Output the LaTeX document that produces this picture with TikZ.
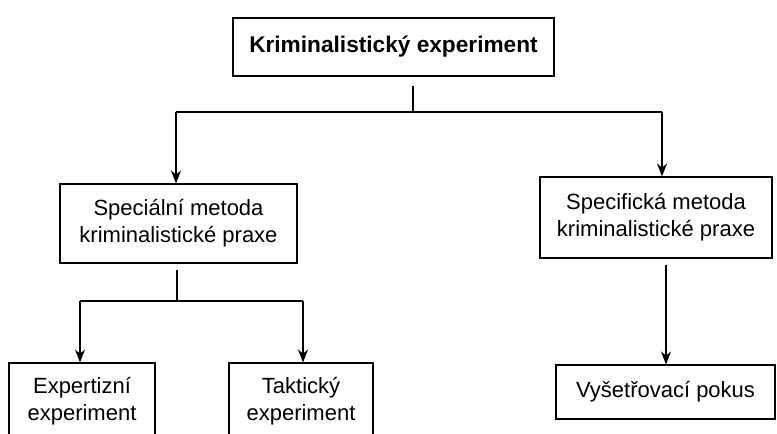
\documentclass[tikz,border=0pt]{standalone}
\usepackage{fontspec}
\setmainfont{Liberation Sans}
\usepackage{tikz}
\usetikzlibrary{arrows.meta,positioning}
\tikzset{
  ln/.style={line width=0.8pt,black},
  ar/.style={-{Stealth[length=3.4mm,width=2.6mm]},line width=2.2pt,black},
  box/.style={draw,line width=0.8pt,align=center,inner sep=0pt,font=\fontsize{16.5}{20}\selectfont},
  topbox/.style={draw,line width=1.6pt,align=center,inner sep=0pt,font=\fontsize{17}{20}\selectfont\bfseries}
}
\begin{document}
\begin{tikzpicture}[x=0.75pt,y=-0.75pt]
\useasboundingbox (0,0) rectangle (777,433);
\clip (0,0) rectangle (777,433);
\node[topbox,minimum width=240.75pt,minimum height=43.5pt] (kex) at (393.5,47) {Kriminalistický experiment};
\node[box,minimum width=177.75pt,minimum height=59.25pt] (spe) at (178.5,223.5) {Speciální metoda\\kriminalistické praxe};
\node[box,minimum width=174pt,minimum height=60.75pt] (spf) at (656,217.5) {Specifická metoda\\kriminalistické praxe};
\node[box,minimum width=109.5pt,minimum height=57pt] (exp) at (82,401) {Expertizní\\experiment};
\node[box,minimum width=108pt,minimum height=57pt] (tak) at (301,401) {Taktický\\experiment};
\node[box,minimum width=164.25pt,minimum height=40.5pt] (vys) at (665.5,392) {Vyšetřovací pokus};
% upper fork
\coordinate (t0) at (413,86);
\coordinate (t1) at (413,112);
\coordinate (tl) at (176,112);
\coordinate (tr) at (662,112);
\draw[ln] (t0) -- (t1);
\draw[ln] (tl) -- (tr);
\draw[ar] (tl) -- (spe.north -| tl);
\draw[ar] (tr) -- (spf.north -| tr);
% lower left fork
\coordinate (s0) at (177,270);
\coordinate (s1) at (177,301);
\coordinate (sl) at (80,301);
\coordinate (sr) at (303,301);
\draw[ln] (s0) -- (s1);
\draw[ln] (sl) -- (sr);
\draw[ar] (sl) -- (exp.north -| sl);
\draw[ar] (sr) -- (tak.north -| sr);
% right branch
\coordinate (r0) at (666,265);
\draw[ar] (r0) -- (vys.north -| r0);
\end{tikzpicture}
\end{document}
